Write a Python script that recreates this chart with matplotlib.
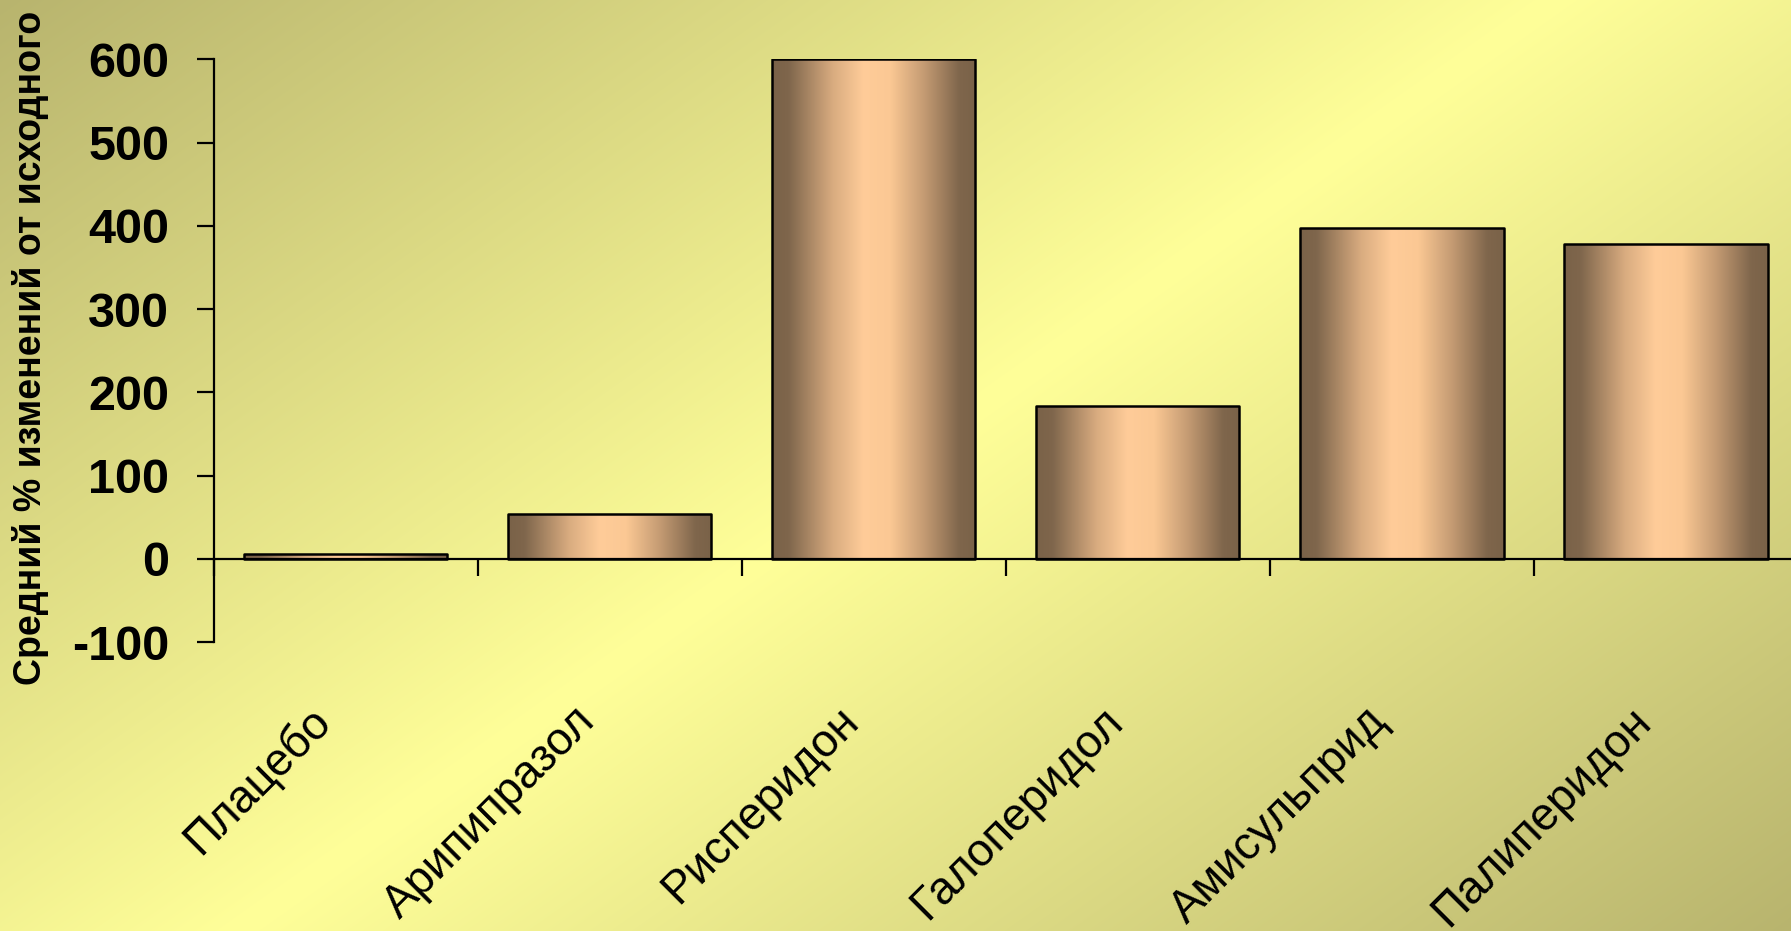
import matplotlib
matplotlib.use('Agg')
import matplotlib.pyplot as plt
import matplotlib.transforms as mtransforms
from matplotlib.colors import LinearSegmentedColormap, to_rgb
import numpy as np

## Data
drugs = ['Плацебо', 'Арипипразол', 'Рисперидон', 'Галоперидол', 'Амисульприд', 'Палиперидон']
change_pct = [6, 54, 600, 184, 398, 378]
y_ticks = [-100, 0, 100, 200, 300, 400, 500, 600]
y_title = 'Средний % изменений от исходного'

## Style
W, H, DPI = 1791, 931, 100
plt.rcParams['font.family'] = ['Liberation Sans', 'DejaVu Sans']
plt.rcParams['axes.unicode_minus'] = False
bg_dark = np.array(to_rgb('#b8b46e'))
bg_light = np.array(to_rgb('#ffff99'))
bar_cmap = LinearSegmentedColormap.from_list(
    'bar', [(0.0, '#7a6248'), (0.08, '#7f664c'), (0.3, '#d9ac80'),
            (0.45, '#ffcc99'), (0.58, '#fbc894'), (0.75, '#c39a72'),
            (0.92, '#7f664c'), (1.0, '#7a6248')])

fig = plt.figure(figsize=(W / DPI, H / DPI), dpi=DPI)

# diagonal background: olive in the corners, pale yellow through the middle
bg_ax = fig.add_axes([0, 0, 1, 1], zorder=-10)
yy, xx = np.mgrid[0:H, 0:W]
s = (xx * 815.0 / W + yy * 600.0 / H) / (815.0 + 600.0)
t = 1 - np.abs(2 * s - 1)
bg = bg_dark + (bg_light - bg_dark) * t[..., None]
bg_ax.imshow(bg, aspect='auto', interpolation='bilinear')
bg_ax.axis('off')

ax = fig.add_axes([213.6 / W, 1 - 642 / H, (1798 - 213.6) / W, (642 - 59.4) / H])
ax.patch.set_alpha(0)

x = np.arange(len(drugs))
bars = ax.bar(x, change_pct, width=0.77, facecolor='none', edgecolor='black',
              linewidth=1.8, joinstyle='round', zorder=3)
grad = bar_cmap(np.linspace(0, 1, 256))[None, :, :3]
for b in bars:
    x0, y0 = b.get_x(), b.get_y()
    im = ax.imshow(grad, extent=(x0, x0 + b.get_width(), y0, y0 + b.get_height()),
                   aspect='auto', interpolation='bilinear', zorder=2)
    im.set_clip_path(b)

ax.set_xlim(-0.5, len(drugs) - 0.5)
ax.set_ylim(-100, 600)
ax.set_yticks(y_ticks)
ax.tick_params(axis='y', direction='out', length=12, width=1.6, pad=20,
               labelsize=35)
for lab in ax.get_yticklabels():
    lab.set_fontweight('bold')

# category axis sits on zero, ticks between categories
ax.spines['top'].set_visible(False)
ax.spines['right'].set_visible(False)
ax.spines['bottom'].set_position(('data', 0))
ax.spines['bottom'].set_linewidth(1.6)
ax.spines['left'].set_linewidth(1.6)
ax.set_xticks(np.arange(len(drugs) + 1) - 0.5)
ax.tick_params(axis='x', direction='out', length=12, width=1.6, labelbottom=False)

trans = mtransforms.blended_transform_factory(ax.transData, ax.transAxes)
trans = trans + mtransforms.ScaledTranslation(-6 / DPI, -57 / DPI, fig.dpi_scale_trans)
for xi, name in zip(x, drugs):
    ax.text(xi, 0, name, transform=trans, rotation=45, ha='right', va='top',
            fontsize=33)

fig.text(31 / W, 1 - 348 / H, y_title, rotation=90, ha='center', va='center',
         fontsize=27, fontweight='bold')

fig.savefig('out.png', dpi=DPI)
